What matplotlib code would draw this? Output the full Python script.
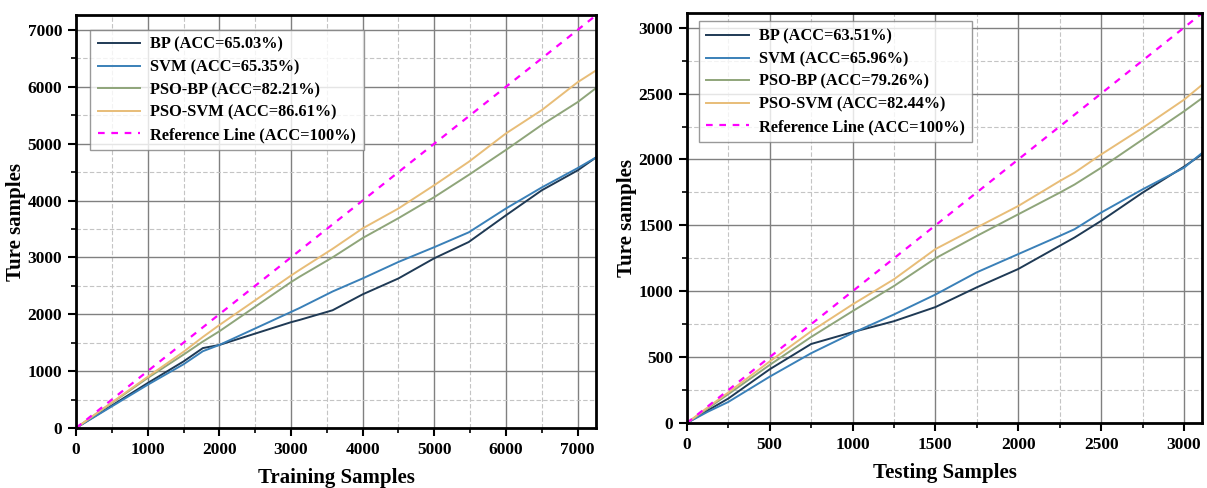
import matplotlib

matplotlib.use("Agg")
import matplotlib.pyplot as plt
from matplotlib.ticker import MultipleLocator

# ---- Training set (left panel) ----
train_x = [0, 1000, 1500, 1770, 2000, 3000, 3120, 3580, 4000, 4500, 5000, 5480, 6000, 6500, 7000, 7260]
train_bp = [0, 790, 1170, 1405, 1460, 1860, 1900, 2070, 2350, 2630, 2985, 3270, 3740, 4180, 4530, 4760]
train_svm = [0, 760, 1120, 1350, 1460, 2040, 2110, 2400, 2630, 2920, 3180, 3440, 3860, 4230, 4570, 4760]
train_psobp = [0, 880, 1290, 1520, 1700, 2565, 2660, 3000, 3340, 3690, 4060, 4450, 4890, 5330, 5730, 5980]
train_psosvm = [0, 900, 1340, 1600, 1810, 2680, 2780, 3150, 3510, 3860, 4270, 4680, 5180, 5590, 6080, 6290]
train_acc = ["65.03", "65.35", "82.21", "86.61"]
train_max = 7260

# ---- Testing set (right panel) ----
test_x = [0, 125, 250, 500, 750, 1000, 1250, 1500, 1750, 2000, 2250, 2340, 2500, 2750, 3000, 3110]
test_bp = [0, 95, 186, 408, 600, 690, 773, 880, 1030, 1169, 1345, 1408, 1534, 1748, 1945, 2040]
test_svm = [0, 85, 160, 352, 530, 683, 824, 975, 1144, 1282, 1420, 1471, 1597, 1773, 1937, 2050]
test_psobp = [0, 110, 219, 441, 653, 849, 1040, 1250, 1420, 1584, 1748, 1810, 1937, 2151, 2365, 2466]
test_psosvm = [0, 118, 232, 467, 696, 900, 1091, 1320, 1484, 1647, 1836, 1900, 2038, 2239, 2453, 2567]
test_acc = ["63.51", "65.96", "79.26", "82.44"]
test_max = 3110

model_names = ["BP", "SVM", "PSO-BP", "PSO-SVM"]
colors = ["#1f3a55", "#3a80b8", "#8fa57a", "#e8bd78"]

plt.rcParams["font.family"] = ["Liberation Serif", "DejaVu Serif"]
plt.rcParams["font.weight"] = "bold"


def draw_panel(ax, x, series, accs, vmax, major, minor, xlabel, legend_anchor):
    # grid first so the curves sit on top
    ax.xaxis.set_major_locator(MultipleLocator(major))
    ax.xaxis.set_minor_locator(MultipleLocator(minor))
    ax.yaxis.set_major_locator(MultipleLocator(major))
    ax.yaxis.set_minor_locator(MultipleLocator(minor))
    ax.grid(True, which="major", color="#808080", linewidth=1.0, linestyle="-")
    ax.grid(True, which="minor", color="#c4c4c4", linewidth=0.8, linestyle=(0, (4, 2)))
    ax.set_axisbelow(True)

    for name, ys, acc, c in zip(model_names, series, accs, colors):
        ax.plot(x, ys, color=c, linewidth=1.4, label=f"{name} (ACC={acc}%)")
    ax.plot([0, vmax], [0, vmax], color="#ff00ff", linewidth=1.6,
            linestyle=(0, (3, 3)), label="Reference Line (ACC=100%)")

    ax.set_xlim(0, vmax)
    ax.set_ylim(0, vmax)
    ax.set_xlabel(xlabel, fontsize=15, fontweight="bold", labelpad=7)
    ax.set_ylabel("Ture samples", fontsize=15, fontweight="bold", labelpad=1)

    ax.tick_params(which="major", direction="out", length=6, width=1.5, labelsize=12.5, pad=4)
    ax.tick_params(which="minor", direction="out", length=3.5, width=1.2)
    for lbl in ax.get_xticklabels() + ax.get_yticklabels():
        lbl.set_fontweight("bold")
    for sp in ax.spines.values():
        sp.set_linewidth(2.0)
        sp.set_color("black")

    leg = ax.legend(loc="upper left", bbox_to_anchor=legend_anchor, fontsize=11.8,
                    frameon=True, fancybox=False, edgecolor="#808080",
                    handlelength=2.6, borderpad=0.45, labelspacing=0.4, handletextpad=0.6)
    leg.get_frame().set_linewidth(1.0)
    for t in leg.get_texts():
        t.set_fontweight("bold")


fig = plt.figure(figsize=(12.07, 4.88), dpi=100)
ax1 = fig.add_axes([0.063, 0.123, 0.431, 0.846])
ax2 = fig.add_axes([0.569, 0.133, 0.427, 0.840])

draw_panel(ax1, train_x, [train_bp, train_svm, train_psobp, train_psosvm], train_acc,
           train_max, 1000, 500, "Training Samples", (0.012, 0.985))
draw_panel(ax2, test_x, [test_bp, test_svm, test_psobp, test_psosvm], test_acc,
           test_max, 500, 250, "Testing Samples", (0.008, 1.0))

fig.savefig("out.png", dpi=100)
plt.close(fig)
